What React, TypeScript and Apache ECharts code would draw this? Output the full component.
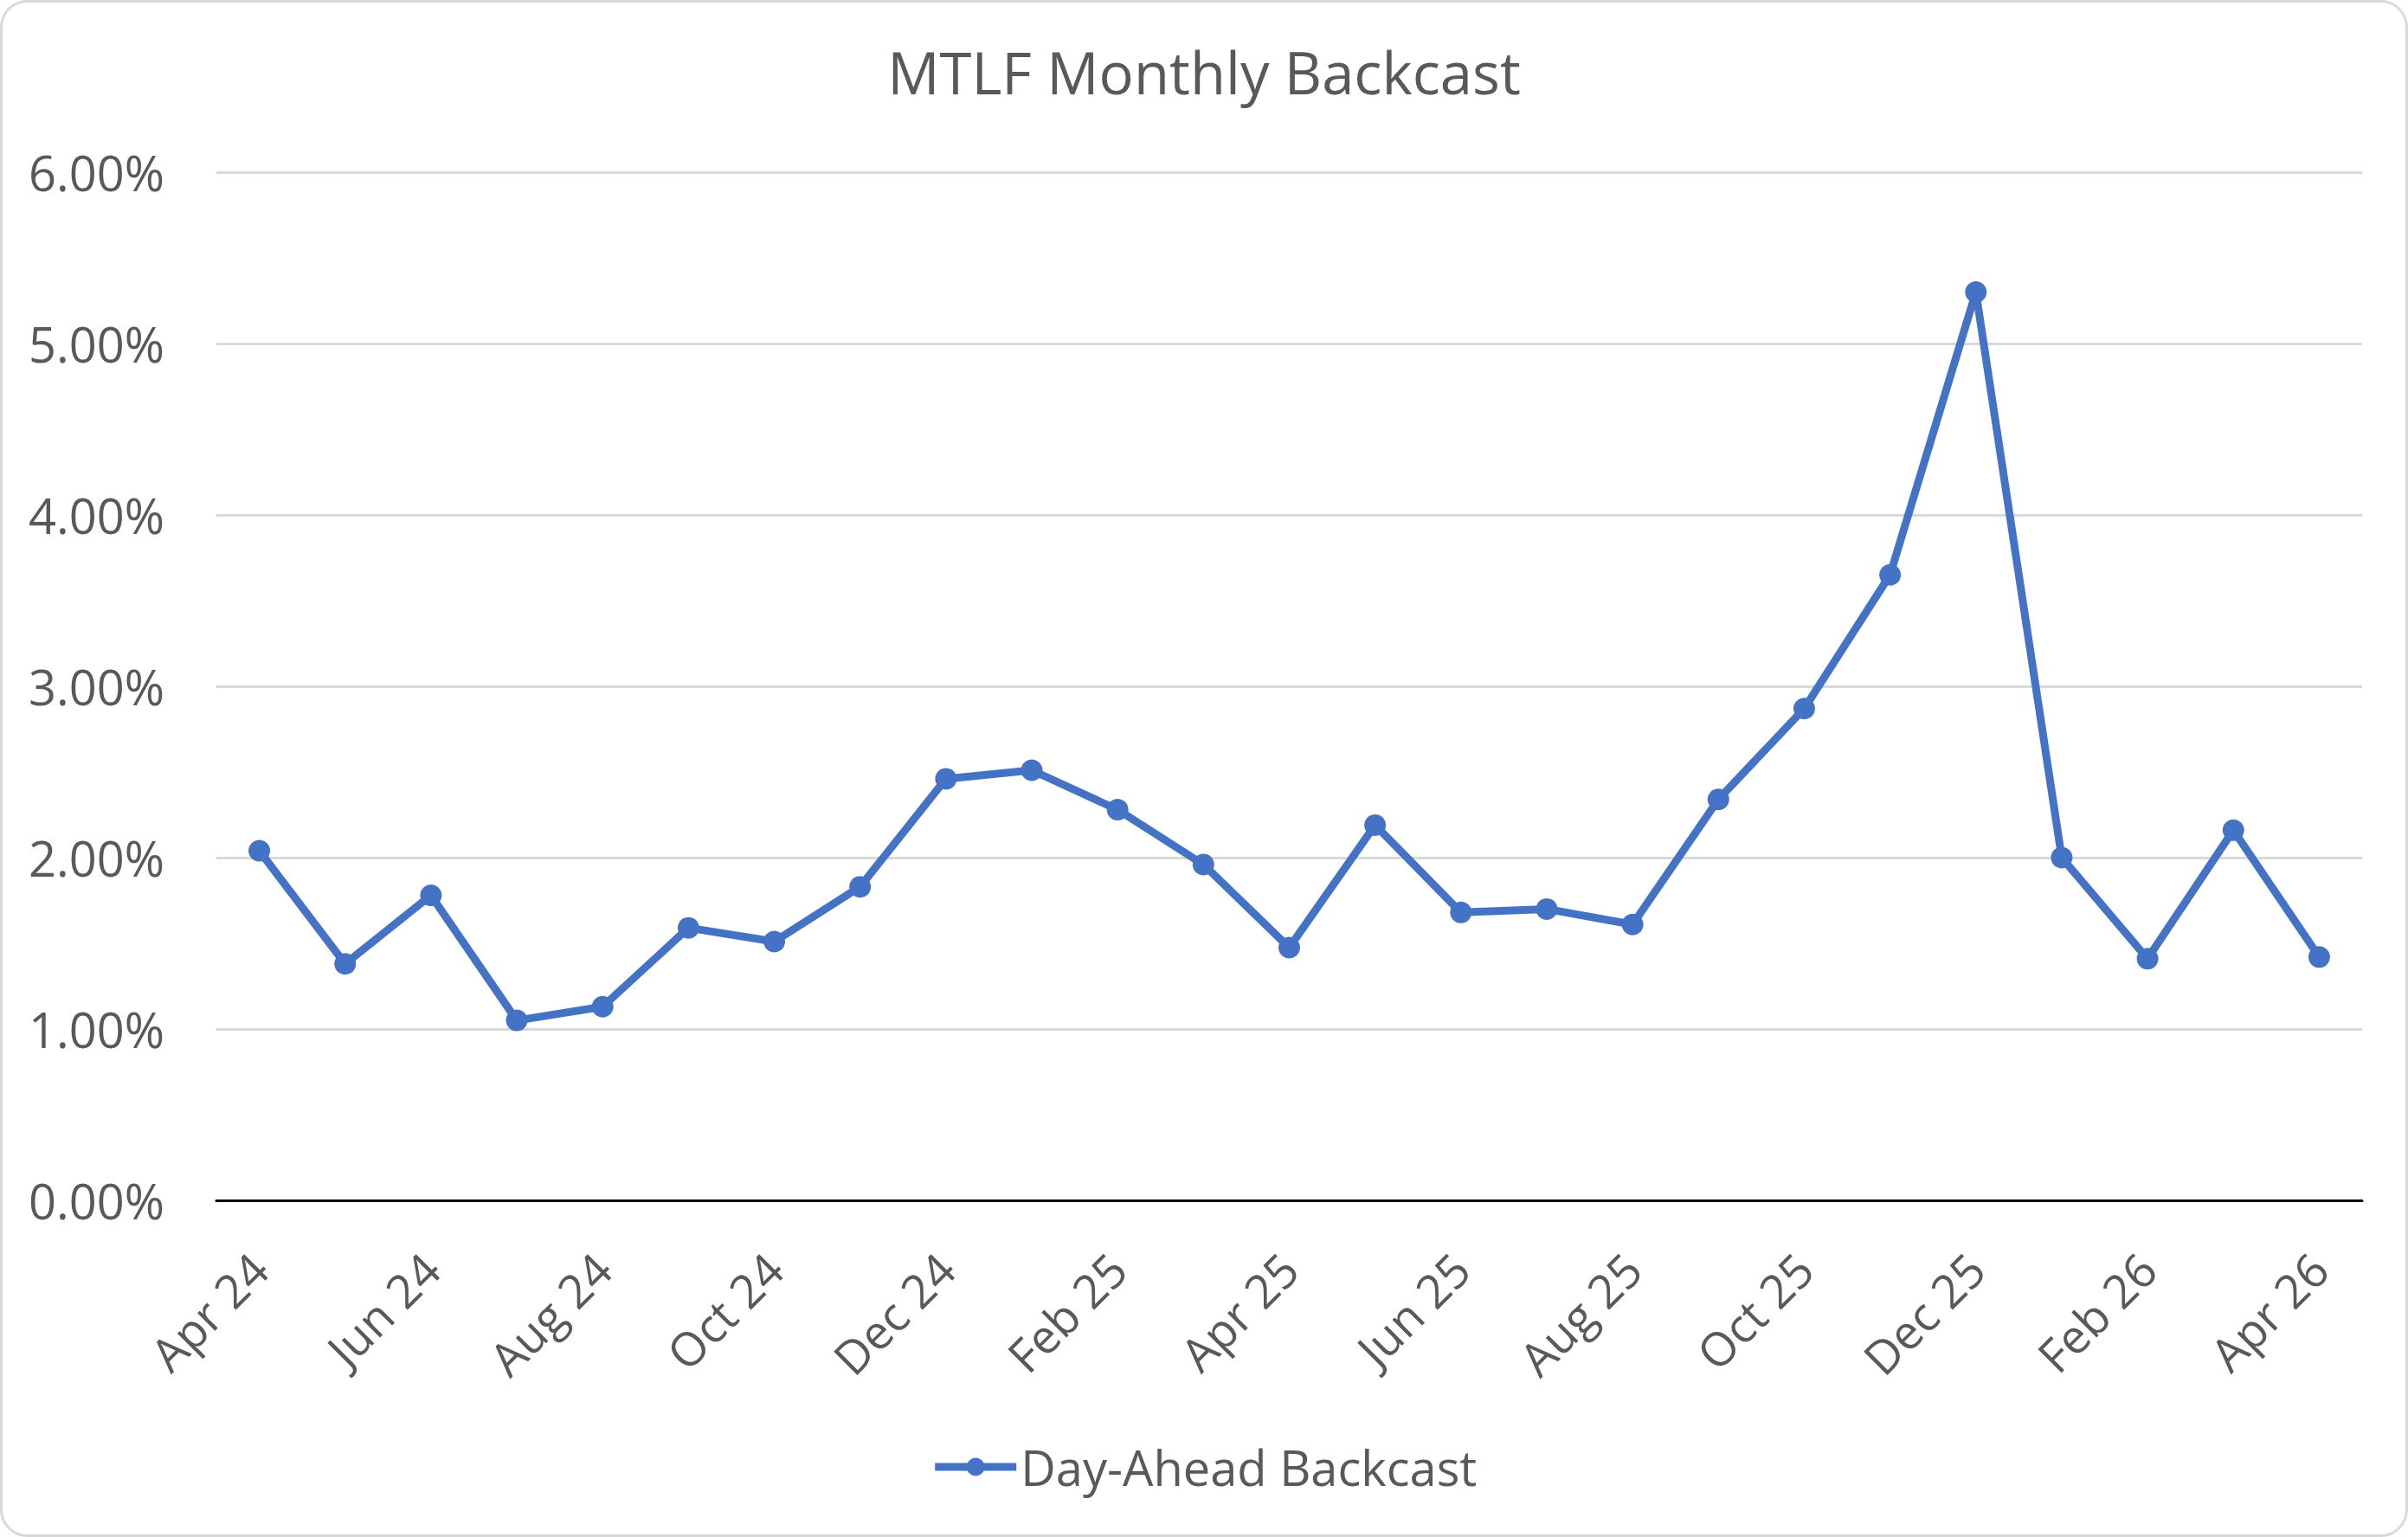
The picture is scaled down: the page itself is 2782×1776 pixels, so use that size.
import React, { useEffect, useRef } from 'react'
import * as echarts from 'echarts'

// ================ 数据 ================
const months: string[] = [
  'Apr 24', 'May 24', 'Jun 24', 'Jul 24', 'Aug 24', 'Sep 24', 'Oct 24', 'Nov 24',
  'Dec 24', 'Jan 25', 'Feb 25', 'Mar 25', 'Apr 25', 'May 25', 'Jun 25', 'Jul 25',
  'Aug 25', 'Sep 25', 'Oct 25', 'Nov 25', 'Dec 25', 'Jan 26', 'Feb 26', 'Mar 26',
  'Apr 26',
]

// Day-Ahead Backcast, in percent
const dayAheadBackcast: number[] = [
  2.04, 1.38, 1.78, 1.05, 1.13, 1.59, 1.51, 1.83,
  2.46, 2.51, 2.28, 1.96, 1.475, 2.19, 1.68, 1.70,
  1.61, 2.34, 2.87, 3.65, 5.30, 2.00, 1.41, 2.16,
  1.42,
]

const seriesName = 'Day-Ahead Backcast'
const chartTitle = 'MTLF Monthly Backcast'

// y 轴刻度: 0.00% .. 6.00%
const yMin = 0
const yMax = 6
const yStep = 1

const WIDTH = 2782
const HEIGHT = 1776
const FONT = '"Open Sans", "Noto Sans", sans-serif'
const TEXT_COLOR = '#595959'
const BLUE = '#4472C4'

export default function App() {
  const chartRef = useRef<HTMLDivElement>(null)

  useEffect(() => {
    document.body.style.margin = '0'
    if (!chartRef.current) return

    const chart = echarts.init(chartRef.current, undefined, { renderer: 'svg' })

    const option = {
      animation: false,
      backgroundColor: '#ffffff',
      textStyle: { fontFamily: FONT },
      title: {
        text: chartTitle,
        left: 'center',
        top: 44,
        textStyle: {
          color: TEXT_COLOR,
          fontSize: 67,
          fontWeight: 'normal',
          fontFamily: FONT,
        },
      },
      // 外框
      graphic: [
        {
          type: 'rect',
          shape: { x: 1.5, y: 1.5, width: WIDTH - 3, height: HEIGHT - 3, r: 30 },
          style: { fill: 'none', stroke: '#d9d9d9', lineWidth: 3 },
          silent: true,
        },
      ],
      legend: {
        data: [seriesName],
        left: 'center',
        top: 1662,
        itemWidth: 94,
        itemHeight: 26,
        itemGap: 10,
        lineStyle: { width: 9 },
        textStyle: {
          color: TEXT_COLOR,
          fontSize: 56,
          fontFamily: FONT,
        },
      },
      grid: {
        left: 250,
        right: 53,
        top: 199,
        bottom: 389,
        containLabel: false,
      },
      xAxis: {
        type: 'category',
        data: months,
        boundaryGap: true,
        axisLine: { show: true, lineStyle: { color: '#000000', width: 3 } },
        axisTick: { show: false },
        splitLine: { show: false },
        axisLabel: {
          interval: 1,
          rotate: 45,
          margin: 70,
          padding: [60, 0, 0, 0],
          color: TEXT_COLOR,
          fontSize: 54,
          fontFamily: FONT,
        },
      },
      yAxis: {
        type: 'value',
        min: yMin,
        max: yMax,
        interval: yStep,
        axisLine: { show: false },
        axisTick: { show: false },
        splitLine: { lineStyle: { color: '#d9d9d9', width: 3 } },
        axisLabel: {
          margin: 60,
          color: TEXT_COLOR,
          fontSize: 56,
          fontFamily: FONT,
          formatter: (v: number) => `${v.toFixed(2)}%`,
        },
      },
      series: [
        {
          name: seriesName,
          type: 'line',
          data: dayAheadBackcast,
          symbol: 'circle',
          symbolSize: 25,
          itemStyle: { color: BLUE },
          lineStyle: { color: BLUE, width: 9 },
        },
      ],
    }

    chart.setOption(option)

    return () => {
      chart.dispose()
    }
  }, [])

  return <div ref={chartRef} style={{ width: WIDTH, height: HEIGHT }} />
}
